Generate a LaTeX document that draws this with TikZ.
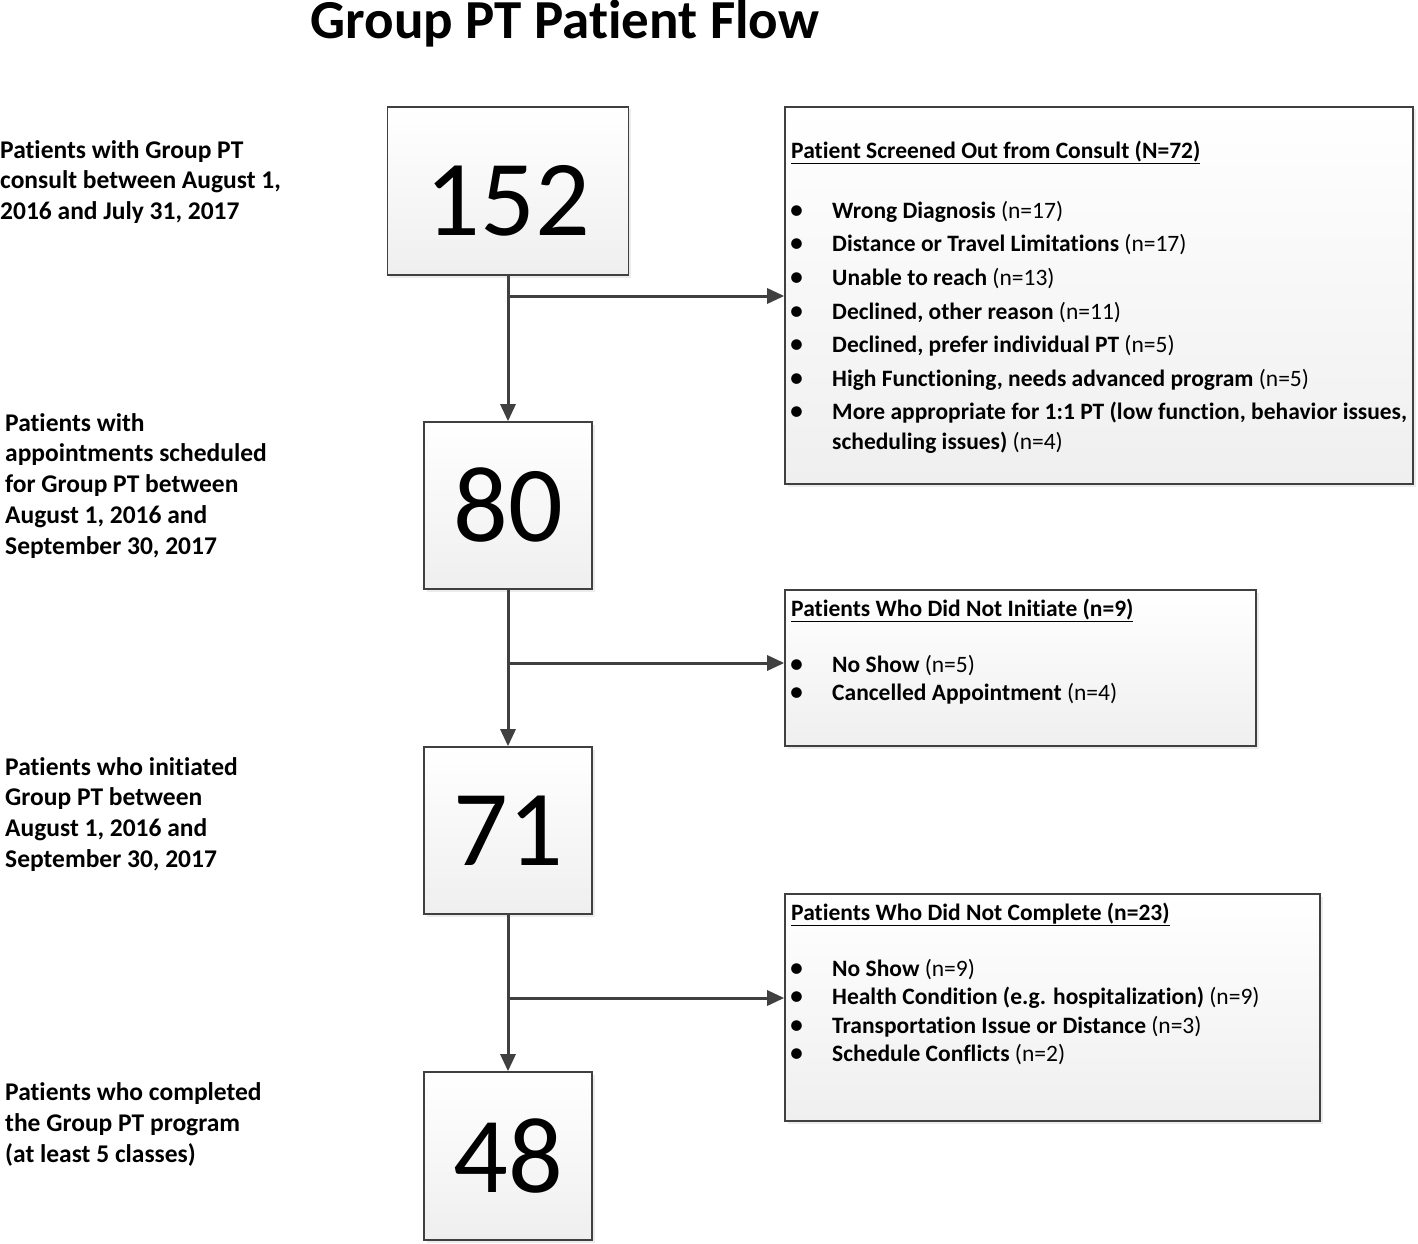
\documentclass[tikz,border=0pt]{standalone}
\usepackage{fontspec}
\setmainfont{Carlito}[Ligatures={TeX,NoCommon,NoContextual}]
\usetikzlibrary{arrows.meta,shadows}
\definecolor{linecol}{HTML}{404040}
\definecolor{boxbot}{HTML}{EFEFEF}
\tikzset{
  box/.style={draw=linecol, line width=1.6pt, top color=white, bottom color=boxbot,
    drop shadow={shadow xshift=2.5pt, shadow yshift=-2.5pt, fill=black!15}, inner sep=0pt},
  conn/.style={draw=linecol, line width=3pt, -{Triangle[length=17pt,width=15pt]}},
  lt/.style={anchor=base west, inner sep=0pt, font=\fontsize{25.5}{30}\selectfont\bfseries},
  rt/.style={anchor=base west, inner sep=0pt, font=\fontsize{23.5}{28}\selectfont},
  bul/.style={anchor=base west, inner sep=0pt, font=\fontsize{30}{30}\selectfont},
  bignum/.style={font=\fontsize{108}{110}\selectfont},
}
\begin{document}
\begin{tikzpicture}[x=1pt,y=-1pt]
\useasboundingbox (0,0) rectangle (1418,1244);
% title
\node[anchor=base, inner sep=0pt, font=\fontsize{55}{60}\selectfont\bfseries] (title) at (565,39) {Group PT Patient Flow};
% number boxes
\node[box, minimum width=241pt, minimum height=168pt] (n152) at (508,191) {};
\node[bignum, inner sep=0pt] (n152num) at (508,201) {152};
\node[box, minimum width=168pt, minimum height=167pt, bignum] (n80) at (508,505.5) {80};
\node[box, minimum width=168pt, minimum height=167pt, bignum] (n71) at (508,830.5) {71};
\node[box, minimum width=168pt, minimum height=168pt, bignum] (n48) at (508,1156) {48};
% right boxes
\node[box, minimum width=628pt, minimum height=377pt] (r1) at (1099,295.5) {};
\node[box, minimum width=471pt, minimum height=156pt] (r2) at (1020.5,668) {};
\node[box, minimum width=535pt, minimum height=227pt] (r3) at (1052.5,1007.5) {};
% connectors
\coordinate (b1) at (508,296);
\coordinate (b2) at (508,663);
\coordinate (b3) at (508,998);
\draw[conn] (n152.south) -- (n80.north);
\draw[conn] (n80.south) -- (n71.north);
\draw[conn] (n71.south) -- (n48.north);
\draw[conn] (b1) -- (b1 -| r1.west);
\draw[conn] (b2) -- (b2 -| r2.west);
\draw[conn] (b3) -- (b3 -| r3.west);
% left texts
\node[lt] (l1a) at (0,158) {Patients with Group PT};
\node[lt] (l1b) at (0,188) {consult between August 1,};
\node[lt] (l1c) at (0,219) {2016 and July 31, 2017};
\node[lt] (l2a) at (5,431) {Patients with};
\node[lt] (l2b) at (5,461) {appointments scheduled};
\node[lt] (l2c) at (5,492) {for Group PT between};
\node[lt] (l2d) at (5,523) {August 1, 2016 and};
\node[lt] (l2e) at (5,554) {September 30, 2017};
\node[lt] (l3a) at (5,775) {Patients who initiated};
\node[lt] (l3b) at (5,805) {Group PT between};
\node[lt] (l3c) at (5,836) {August 1, 2016 and};
\node[lt] (l3d) at (5,867) {September 30, 2017};
\node[lt] (l4a) at (5,1100) {Patients who completed};
\node[lt] (l4b) at (5,1131) {the Group PT program};
\node[lt] (l4c) at (5,1162) {(at least 5 classes)};
% right box 1 text
\node[rt] (h1) at (791,158) {\underline{\textbf{Patient Screened Out from Consult (N=72)}}};
\foreach \yy/\txt [count=\i] in {
  218/{\textbf{Wrong Diagnosis} (n=17)},
  251/{\textbf{Distance or Travel Limitations} (n=17)},
  285/{\textbf{Unable to reach} (n=13)},
  319/{\textbf{Declined, other reason} (n=11)},
  352/{\textbf{Declined, prefer individual PT} (n=5)},
  386/{\textbf{High Functioning, needs advanced program} (n=5)},
  419/{\textbf{More appropriate for 1:1 PT (low function, behavior issues,}}}{
  \node[bul] (p1b\i) at (789,\yy+1) {\textbullet};
  \node[rt] (p1t\i) at (832,\yy) {\txt};
}
\node[rt] (p1t8) at (832,449) {\textbf{scheduling issues)} (n=4)};
% right box 2 text
\node[rt] (h2) at (791,616) {\underline{\textbf{Patients Who Did Not Initiate (n=9)}}};
\node[bul] (p2b1) at (789,673) {\textbullet};
\node[rt] (p2t1) at (832,672) {\textbf{No Show} (n=5)};
\node[bul] (p2b2) at (789,701) {\textbullet};
\node[rt] (p2t2) at (832,700) {\textbf{Cancelled Appointment} (n=4)};
% right box 3 text
\node[rt] (h3) at (791,920) {\underline{\textbf{Patients Who Did Not Complete (n=23)}}};
\node[bul] (p3b1) at (789,977) {\textbullet};
\node[rt] (p3t1) at (832,976) {\textbf{No Show} (n=9)};
\node[bul] (p3b2) at (789,1005) {\textbullet};
\node[rt] (p3t2) at (832,1004) {\textbf{Health Condition (e.g. hospitalization)} (n=9)};
\node[bul] (p3b3) at (789,1034) {\textbullet};
\node[rt] (p3t3) at (832,1033) {\textbf{Transportation Issue or Distance} (n=3)};
\node[bul] (p3b4) at (789,1062) {\textbullet};
\node[rt] (p3t4) at (832,1061) {\textbf{Schedule Conflicts} (n=2)};
\end{tikzpicture}
\end{document}
